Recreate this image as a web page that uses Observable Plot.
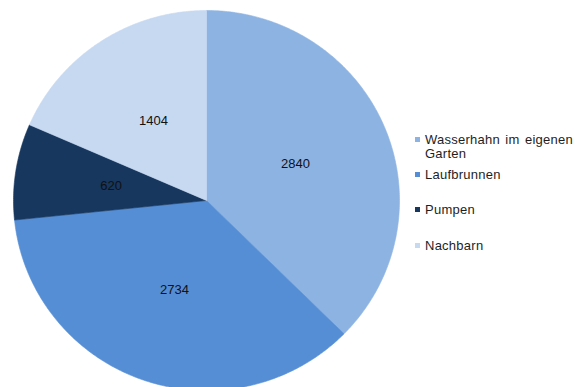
<!DOCTYPE html>
<html>
<head>
<meta charset="utf-8">
<script src="https://cdn.jsdelivr.net/npm/d3@7"></script>
<script src="https://cdn.jsdelivr.net/npm/@observablehq/plot@0.6"></script>
<style>
  html, body { margin: 0; padding: 0; background: #fff; }
  #wrap { position: relative; width: 577px; height: 387px; overflow: hidden; font-family: "Liberation Sans", Arial, sans-serif; }
  .item { position: absolute; left: 415px; font-size: 13px; line-height: 14px; color: #1e1e1e; word-spacing: 1.5px; letter-spacing: 0.25px; white-space: nowrap; }
  .sw { position: absolute; left: 0; top: 4.5px; width: 5px; height: 5px; }
  .lbl { position: absolute; left: 10px; top: 0; }
</style>
</head>
<body>
<div id="wrap"></div>
<script>
const categories = ["Wasserhahn im eigenen Garten", "Laufbrunnen", "Pumpen", "Nachbarn"];
const values = [2840, 2734, 620, 1404];
const colors = ["#8db3e2", "#558ed5", "#17375e", "#c6d9f1"];
const legendLines = [["Wasserhahn im eigenen", "Garten"], ["Laufbrunnen"], ["Pumpen"], ["Nachbarn"]];
const legendTops = [132.5, 167.5, 202.5, 238.5];

const slices = d3.pie().sort(null).startAngle(0).endAngle(2 * Math.PI)(values)
  .map((a, i) => ({...a, name: categories[i], color: colors[i]}));

function arcPoints(s) {
  const pts = [{x: 0, y: 0}];
  const n = Math.max(8, Math.ceil((s.endAngle - s.startAngle) / 0.01));
  for (let k = 0; k <= n; k++) {
    const a = s.startAngle + (s.endAngle - s.startAngle) * k / n;
    pts.push({x: Math.sin(a), y: Math.cos(a)});
  }
  pts.push({x: 0, y: 0});
  return pts;
}

const labelR = 0.5;
const labels = slices.map(s => {
  const m = (s.startAngle + s.endAngle) / 2;
  return {x: labelR * Math.sin(m), y: labelR * Math.cos(m), text: String(s.value), color: s.color};
});

const plot = Plot.plot({
  width: 577,
  height: 387,
  margin: 0,
  x: {domain: [-1, 1], range: [13, 399], axis: null},
  y: {domain: [-1, 1], range: [390, 10], axis: null},
  marks: [
    ...slices.map(s => Plot.line(arcPoints(s), {x: "x", y: "y", fill: s.color, stroke: s.color, strokeWidth: 0.6, curve: "linear"})),
    Plot.text(labels, {x: "x", y: "y", text: "text", fontSize: 13, fill: "#111", fontFamily: "Liberation Sans, Arial, sans-serif"})
  ]
});
plot.style.position = "absolute";
plot.style.left = "0";
plot.style.top = "0";
const wrap = document.getElementById("wrap");
wrap.appendChild(plot);

categories.forEach((c, i) => {
  const it = document.createElement("div");
  it.className = "item";
  it.style.top = legendTops[i] + "px";
  const sw = document.createElement("div");
  sw.className = "sw";
  sw.style.background = colors[i];
  const lb = document.createElement("div");
  lb.className = "lbl";
  lb.innerHTML = legendLines[i].join("<br>");
  it.appendChild(sw);
  it.appendChild(lb);
  wrap.appendChild(it);
});
</script>
</body>
</html>
